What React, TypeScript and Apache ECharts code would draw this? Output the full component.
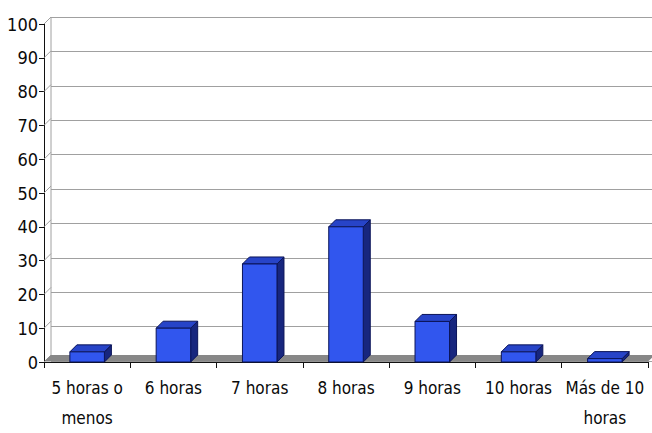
import React, { useEffect, useRef } from "react";
import * as echarts from "echarts";

// Hours of sleep per night, percentage of respondents
const categories = [
  "5 horas o\nmenos",
  "6 horas",
  "7 horas",
  "8 horas",
  "9 horas",
  "10 horas",
  "Más de 10\nhoras",
];
const values = [3, 10, 29, 40, 12, 3, 1];
const yTicks = [0, 10, 20, 30, 40, 50, 60, 70, 80, 90, 100];

// 3D depth offset (pixels) of the column tops/sides and back wall
const DX = 7;
const DY = -7;

const FONT = "'Liberation Sans Narrow', 'Arial Narrow', 'DejaVu Sans Condensed', sans-serif";

export default function App() {
  const ref = useRef<HTMLDivElement>(null);

  useEffect(() => {
    if (!ref.current) return;
    const chart = echarts.init(ref.current, null, { renderer: "svg" });

    const option: any = {
      animation: false,
      backgroundColor: "#ffffff",
      grid: [
        { left: 44, top: 24, width: 604, height: 344, containLabel: false },
        { left: 44 + DX, top: 24 + DY, width: 610, height: 344, containLabel: false },
      ],
      xAxis: [
        {
          type: "category",
          gridIndex: 0,
          data: categories,
          axisLine: { show: true, lineStyle: { color: "#111", width: 1 } },
          axisTick: { show: true, length: 6, lineStyle: { color: "#111" } },
          axisLabel: {
            color: "#0a0a0a",
            fontFamily: FONT,
            fontSize: 17,
            lineHeight: 30,
            margin: 11,
            interval: 0,
          },
          splitLine: { show: false },
        },
        { type: "value", gridIndex: 1, min: 0, max: 1, show: false },
      ],
      yAxis: [
        {
          type: "value",
          gridIndex: 0,
          min: 0,
          max: 100,
          interval: 10,
          axisLine: { show: true, lineStyle: { color: "#111", width: 1 } },
          axisTick: { show: true, length: 5, lineStyle: { color: "#111" } },
          axisLabel: { color: "#0a0a0a", fontFamily: FONT, fontSize: 18, margin: 6 },
          splitLine: { show: false },
        },
        {
          type: "value",
          gridIndex: 1,
          min: 0,
          max: 100,
          interval: 10,
          axisLine: { show: false },
          axisTick: { show: false },
          axisLabel: { show: false },
          splitLine: { show: true, lineStyle: { color: "#a0a0a0", width: 1 } },
        },
      ],
      series: [
        {
          // side wall, back wall edge and floor of the 3D frame
          type: "custom",
          xAxisIndex: 0,
          yAxisIndex: 0,
          z: 1,
          silent: true,
          data: yTicks.map((v) => [0, v]),
          renderItem: (params: any, api: any) => {
            const cs = params.coordSys;
            const v = api.value(1);
            const y = api.coord([0, v])[1];
            const x0 = cs.x;
            const children: any[] = [
              {
                type: "line",
                shape: { x1: x0, y1: y, x2: x0 + DX, y2: y + DY },
                style: { stroke: "#a0a0a0", lineWidth: 1 },
              },
            ];
            if (params.dataIndex === 0) {
              const yTop = api.coord([0, 100])[1];
              children.push({
                type: "line",
                shape: { x1: x0 + DX, y1: y + DY, x2: x0 + DX, y2: yTop + DY },
                style: { stroke: "#a0a0a0", lineWidth: 1 },
              });
              const xr = cs.x + cs.width;
              children.push({
                type: "polygon",
                shape: {
                  points: [
                    [x0, y - 0.5],
                    [xr, y - 0.5],
                    [xr + DX, y + DY],
                    [x0 + DX, y + DY],
                  ],
                },
                style: { fill: "#878787" },
              });
            }
            return { type: "group", children };
          },
        },
        {
          // 3D columns: front face, top and right side
          type: "custom",
          xAxisIndex: 0,
          yAxisIndex: 0,
          z: 3,
          data: values.map((v, i) => [i, v]),
          renderItem: (params: any, api: any) => {
            const idx = api.value(0);
            const v = api.value(1);
            const base = api.coord([idx, 0]);
            const tp = api.coord([idx, v]);
            const w = api.size([1, 0])[0] * 0.4;
            const x = base[0] - w / 2;
            const yT = tp[1];
            const yB = base[1];
            const stroke = "#0b1458";
            return {
              type: "group",
              children: [
                {
                  type: "polygon",
                  shape: {
                    points: [
                      [x + w, yT],
                      [x + w + DX, yT + DY],
                      [x + w + DX, yB + DY],
                      [x + w, yB],
                    ],
                  },
                  style: { fill: "#17267e", stroke, lineWidth: 1 },
                },
                {
                  type: "polygon",
                  shape: {
                    points: [
                      [x, yT],
                      [x + DX, yT + DY],
                      [x + w + DX, yT + DY],
                      [x + w, yT],
                    ],
                  },
                  style: { fill: "#2744c8", stroke, lineWidth: 1 },
                },
                {
                  type: "rect",
                  shape: { x, y: yT, width: w, height: yB - yT },
                  style: { fill: "#3156ee", stroke, lineWidth: 1 },
                },
              ],
            };
          },
        },
      ],
    };

    chart.setOption(option);
    return () => chart.dispose();
  }, []);

  return (
    <div
      ref={ref}
      style={{ position: "fixed", left: 0, top: 0, width: 652, height: 433 }}
    />
  );
}
